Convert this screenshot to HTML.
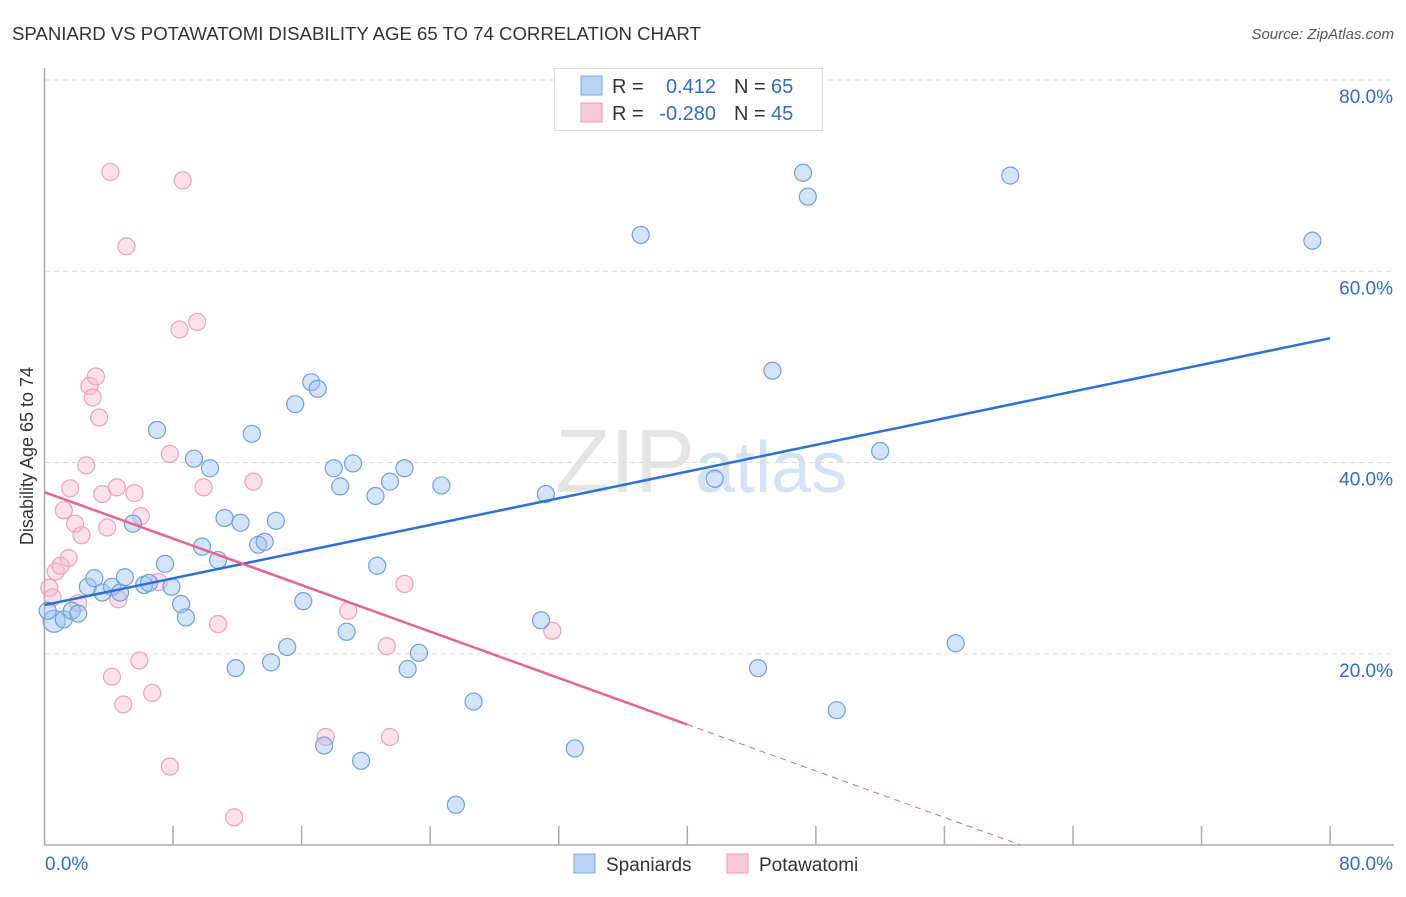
<!DOCTYPE html>
<html><head><meta charset="utf-8"><style>
body{margin:0;background:#fff;font-family:"Liberation Sans",sans-serif}
svg text{font-family:"Liberation Sans",sans-serif}
</style></head><body>
<svg id="chart" width="1406" height="892" viewBox="0 0 1406 892" xmlns="http://www.w3.org/2000/svg">
<text x="12" y="40" font-size="18.6" fill="#333">SPANIARD VS POTAWATOMI DISABILITY AGE 65 TO 74 CORRELATION CHART</text>
<text x="1394" y="39" font-size="15" fill="#555" font-style="italic" text-anchor="end">Source: ZipAtlas.com</text>
<text x="555" y="492" font-size="90" fill="#e4e4e4" font-family="Liberation Serif">ZIP<tspan fill="#d4e2f3" font-family="Liberation Sans" font-size="72">atlas</tspan></text>
<g id="grid"></g>
<g id="axes"></g>
<g id="pts"></g>
<g id="trends"></g>
<text transform="translate(33,456) rotate(-90)" font-size="18" fill="#333" text-anchor="middle">Disability Age 65 to 74</text>
<g>
<rect x="554.5" y="68.5" width="268" height="62" fill="#fff" stroke="#ddd"/>
<rect x="581" y="76" width="21" height="19" fill="#b9d3f5" stroke="#7aa7e0"/>
<rect x="581" y="103" width="21" height="19" fill="#f9c9d7" stroke="#ee9ab4"/>
<text x="612" y="93" font-size="20" fill="#333">R = </text><text x="716" y="93" font-size="20" fill="#2d6bd0" text-anchor="end">0.412</text>
<text x="734" y="93" font-size="20" fill="#333">N = </text><text x="771" y="93" font-size="20" fill="#2d6bd0">65</text>
<text x="612" y="120" font-size="20" fill="#333">R = </text><text x="716" y="120" font-size="20" fill="#2d6bd0" text-anchor="end">-0.280</text>
<text x="734" y="120" font-size="20" fill="#333">N = </text><text x="771" y="120" font-size="20" fill="#2d6bd0">45</text>
</g>
<g>
<rect x="574" y="854" width="21" height="19" fill="#b9d3f5" stroke="#7aa7e0"/>
<text x="606" y="871" font-size="19" fill="#333">Spaniards</text>
<rect x="727" y="854" width="21" height="19" fill="#f9c9d7" stroke="#ee9ab4"/>
<text x="759" y="871" font-size="19" fill="#333">Potawatomi</text>
</g>
</svg>
<script>
const yTicks=[20,40,60,80];
const yTickLabels=["20.0%","40.0%","60.0%","80.0%"];
const xTickLabels=["0.0%","80.0%"];
const blueX=[0.6,0.2,1.2,1.7,2.1,2.7,3.1,3.6,4.2,4.7,5.0,5.5,6.2,6.5,7.0,7.5,7.9,8.5,8.8,9.3,9.8,10.3,10.8,11.2,11.9,12.2,12.9,13.3,13.7,14.1,14.4,15.1,15.6,16.1,16.6,17.0,17.4,18.0,18.4,18.8,19.2,19.7,20.6,20.7,21.5,22.4,22.6,23.3,24.7,25.6,26.7,30.9,31.2,33.0,37.1,41.7,44.4,45.3,47.2,47.5,49.3,52.0,56.7,60.1,78.9];
const blueY=[23.4,24.5,23.6,24.5,24.2,27.0,27.9,26.4,27.0,26.4,28.0,33.6,27.2,27.4,43.4,29.4,27.0,25.2,23.8,40.4,31.2,39.4,29.8,34.2,18.5,33.7,43.0,31.4,31.7,19.1,33.9,20.7,46.1,25.5,48.4,47.7,10.4,39.4,37.5,22.3,39.9,8.8,36.5,29.2,38.0,39.4,18.4,20.1,37.6,4.2,15.0,23.5,36.7,10.1,63.8,38.3,18.5,49.6,70.3,67.8,14.1,41.2,21.1,70.0,63.2];
const pinkX=[0.3,0.5,0.7,1.0,1.2,1.5,1.6,1.9,2.1,2.3,2.6,2.8,3.0,3.2,3.4,3.6,3.9,4.1,4.2,4.5,4.6,4.9,5.1,5.6,5.9,6.0,6.7,7.1,7.8,7.8,8.4,8.6,9.5,9.9,10.8,11.8,13.0,17.5,18.9,21.3,21.5,22.4,31.6];
const pinkY=[26.9,25.9,28.6,29.2,35.0,30.0,37.3,33.6,25.3,32.4,39.7,48.0,46.8,49.0,44.7,36.7,33.2,70.4,17.6,37.4,25.7,14.7,62.6,36.8,19.3,34.4,15.9,27.5,8.2,40.9,53.9,69.5,54.7,37.4,23.1,2.9,38.0,11.3,24.5,20.8,11.3,27.3,22.4];
const blueTrend=[25.1,53.0];
const pinkTrend=[36.9,-11.7];
const NS="http://www.w3.org/2000/svg";
const X=v=>44.5+v*16.07, Y=v=>845-v*9.5625;
function mk(t,a,p){const e=document.createElementNS(NS,t);for(const k in a)e.setAttribute(k,a[k]);document.getElementById(p).appendChild(e);return e;}
yTicks.forEach((t,i)=>{
 const g=mk('line',{x1:45,x2:1394,y1:Y(t),y2:Y(t),stroke:'#ddd','stroke-dasharray':'5,4'},'grid');
 
 
 const l=mk('text',{x:1393,y:Y(t)+23,'font-size':19,fill:'#2d6bd0','text-anchor':'end'},'grid');
 l.textContent=yTickLabels[i];
 
 
});
let ax=mk('line',{x1:44.5,x2:44.5,y1:68,y2:845,stroke:'#aaa','stroke-width':1.5},'axes');


ax=mk('line',{x1:44,x2:1394,y1:845,y2:845,stroke:'#aaa','stroke-width':1.5},'axes');


for(let v=8;v<=80;v+=8){const t=mk('line',{x1:X(v),x2:X(v),y1:826,y2:845,stroke:'#aaa','stroke-width':1.5},'axes');
 
 }
let xl=mk('text',{x:45,y:870,'font-size':19,fill:'#2d6bd0'},'axes');xl.textContent=xTickLabels[0];


xl=mk('text',{x:1393,y:870,'font-size':19,fill:'#2d6bd0','text-anchor':'end'},'axes');xl.textContent=xTickLabels[1];


pinkX.forEach((x,i)=>{const c=mk('circle',{cx:X(x),cy:Y(pinkY[i]),r:8.5,fill:'rgba(246,180,200,0.4)',stroke:'#eea0b9','stroke-width':1.2},'pts');
 
 });
blueX.forEach((x,i)=>{const c=mk('circle',{cx:X(x),cy:Y(blueY[i]),r:i==0?11:8.5,fill:'rgba(160,195,240,0.45)',stroke:'#6f9fdc','stroke-width':1.2},'pts');
 
 });
let l=mk('line',{x1:X(0),y1:Y(blueTrend[0]),x2:X(80),y2:Y(blueTrend[1]),stroke:'#2a70d6','stroke-width':2.5},'trends');


const ps=(pinkTrend[1]-pinkTrend[0])/80, pv=x=>pinkTrend[0]+ps*x, x0=-pinkTrend[0]/ps;
l=mk('line',{x1:X(0),y1:Y(pv(0)),x2:X(40),y2:Y(pv(40)),stroke:'#e8628e','stroke-width':2.5},'trends');


l=mk('line',{x1:X(40),y1:Y(pv(40)),x2:X(x0),y2:Y(0),stroke:'#e8628e','stroke-width':1,'stroke-dasharray':'6,5'},'trends');


</script>
</body></html>
